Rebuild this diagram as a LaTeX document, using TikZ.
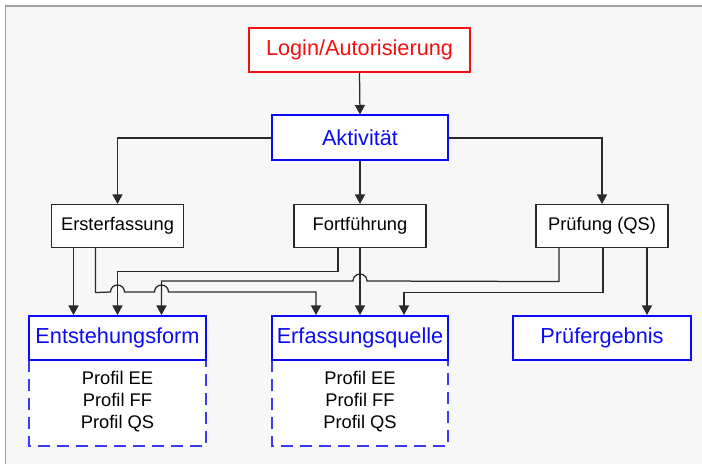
\documentclass[tikz,border=0pt]{standalone}
\usepackage{fontspec}
\setmainfont{Liberation Sans}
\usetikzlibrary{arrows.meta,calc}
\definecolor{bgc}{HTML}{F7F7F7}
\definecolor{framec}{HTML}{A0A0A0}
\definecolor{linec}{HTML}{2A2A2A}
\definecolor{redc}{HTML}{F01010}
\definecolor{bluec}{HTML}{0A0AF5}
\definecolor{dashc}{HTML}{3A3AF0}
\tikzset{
  box/.style={draw=linec, line width=1.1pt, fill=white, inner sep=0pt,
    minimum width=132pt, minimum height=43pt, text=black,
    font=\fontsize{18.3}{22}\selectfont},
  bluebox/.style={draw=bluec, line width=2pt, fill=white, inner sep=0pt,
    minimum width=177pt, minimum height=44pt, text=bluec,
    font=\fontsize{21.7}{26}\selectfont},
  redbox/.style={draw=redc, line width=1.2pt, fill=white, inner sep=0pt,
    minimum width=221pt, minimum height=44pt, text=redc,
    font=\fontsize{21.7}{26}\selectfont},
  profil/.style={align=center, text=black, inner sep=0pt,
    font=\fontsize{18.3}{22}\selectfont},
  conn/.style={draw=linec, line width=1.25pt},
  arr/.style={conn, -{Triangle[length=9.5pt,width=10pt]}},
  dashbox/.style={draw=dashc, line width=1.3pt, dash pattern=on 12pt off 7pt},
}
\begin{document}
\begin{tikzpicture}[x=1pt,y=1pt]
\useasboundingbox (0,0) rectangle (702,464);
\fill[white] (0,0) rectangle (702,464);
\fill[bgc] (5.5,0) rectangle (702,458);
\draw[framec, line width=1.2pt] (5.5,0) -- (5.5,458) -- (702,458);

% nodes
\node[redbox] (login) at (359.5,414) {Login/Autorisierung};
\node[bluebox, minimum width=176pt, minimum height=45pt] (akt) at (360,326) {Aktivität};
\node[box] (ers) at (117.5,238) {Ersterfassung};
\node[box] (fort) at (360,238) {Fortführung};
\node[box] (pruef) at (602,238) {Prüfung (QS)};

% dashed lower boxes
\fill[white] (29,104) rectangle (206,18);
\fill[white] (272,104) rectangle (448,18);
\draw[dashbox] (29,104) -- (29,18) -- (206,18) -- (206,104);
\draw[dashbox] (272,104) -- (272,18) -- (448,18) -- (448,104);

\node[bluebox] (ent) at (117.5,126) {Entstehungsform};
\node[bluebox, minimum width=176pt] (erf) at (360,126) {Erfassungsquelle};
\node[bluebox, minimum width=178pt] (prg) at (602,126) {Prüfergebnis};

\node[profil] (entp) at (117.5,62) {Profil EE\\Profil FF\\Profil QS};
\node[profil] (erfp) at (360,62) {Profil EE\\Profil FF\\Profil QS};

% top connectors
\draw[arr] (login.south) -- (akt.north);
\draw[arr] (akt.west) -| (ers.north);
\draw[arr] (akt.south) -- (fort.north);
\draw[arr] (akt.east) -| (pruef.north);

% lower connectors
\draw[arr] ([xshift=-44pt]ers.south) -- ([xshift=-44pt]ent.north);
\draw[arr] ([xshift=-22pt]fort.south) -- ++(0,-23.5) -| (ent.north);
\draw[arr] ([xshift=-43pt]pruef.south) -- ++(0,-33.5) -- (367,183)
   arc[start angle=0, end angle=180, radius=7pt] -| ([xshift=44pt]ent.north);
\draw[arr] ([xshift=-22pt]ers.south) -- ++(0,-44.5) -- (110.5,172)
   arc[start angle=180, end angle=0, radius=7pt] -- (154.5,172)
   arc[start angle=180, end angle=0, radius=7pt] -| ([xshift=-44pt]erf.north);
\draw[arr] (fort.south) -- (erf.north);
\draw[arr] ([xshift=1pt]pruef.south) -- ++(0,-44.5) -| ([xshift=44pt]erf.north);
\draw[arr] ([xshift=45pt]pruef.south) -- ([xshift=45pt]prg.north);
\end{tikzpicture}
\end{document}
